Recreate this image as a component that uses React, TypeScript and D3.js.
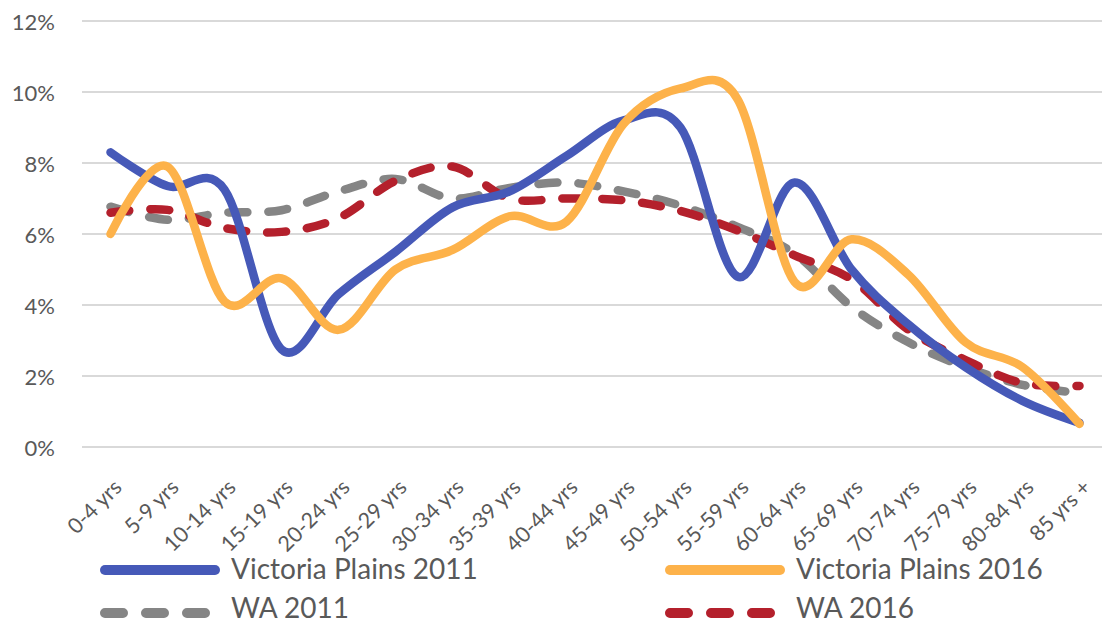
import React from "react";
import * as d3 from "d3";

const ageGroups = [
  "0-4 yrs", "5-9 yrs", "10-14 yrs", "15-19 yrs", "20-24 yrs", "25-29 yrs",
  "30-34 yrs", "35-39 yrs", "40-44 yrs", "45-49 yrs", "50-54 yrs", "55-59 yrs",
  "60-64 yrs", "65-69 yrs", "70-74 yrs", "75-79 yrs", "80-84 yrs", "85 yrs +",
];

const vp2011 = [8.3, 7.35, 7.25, 2.75, 4.3, 5.5, 6.75, 7.2, 8.2, 9.2, 9.0, 4.8, 7.45, 5.0, 3.45, 2.25, 1.3, 0.68];
const vp2016 = [6.0, 7.9, 4.1, 4.75, 3.3, 5.0, 5.55, 6.5, 6.35, 9.1, 10.1, 9.8, 4.65, 5.85, 4.85, 2.95, 2.25, 0.65];
const wa2011 = [6.77, 6.4, 6.6, 6.67, 7.2, 7.55, 7.0, 7.3, 7.45, 7.2, 6.8, 6.2, 5.45, 3.95, 2.95, 2.25, 1.75, 1.52];
const wa2016 = [6.6, 6.68, 6.17, 6.06, 6.45, 7.5, 7.9, 7.0, 7.0, 6.95, 6.65, 6.1, 5.4, 4.72, 3.3, 2.45, 1.8, 1.72];

const yTicks = [0, 2, 4, 6, 8, 10, 12];

const series = [
  { name: "Victoria Plains 2011", values: vp2011, color: "#4659B8", dashed: false },
  { name: "Victoria Plains 2016", values: vp2016, color: "#FDB24A", dashed: false },
  { name: "WA 2011", values: wa2011, color: "#858585", dashed: true },
  { name: "WA 2016", values: wa2016, color: "#B4202C", dashed: true },
];

const width = 1102;
const height = 626;
const margin = { left: 82, right: -6, top: 21, bottom: 179 };
const font = "Lato, 'Open Sans', sans-serif";
const textColor = "#595959";

export default function App() {
  const x = d3
    .scaleBand()
    .domain(ageGroups)
    .range([margin.left, width - margin.right]);
  const y = d3
    .scaleLinear()
    .domain([0, 12])
    .range([height - margin.bottom, margin.top]);
  const cx = (d) => x(d) + x.bandwidth() / 2;

  const line = d3
    .line()
    .x((d, i) => cx(ageGroups[i]))
    .y((d) => y(d))
    .curve(d3.curveCardinal.tension(0));

  // dashed series first so the solid ones sit on top
  const order = [series[2], series[3], series[0], series[1]];

  const legend = [
    { s: series[0], lx: 100, ly: 570, ty: 579 },
    { s: series[1], lx: 665, ly: 570, ty: 579 },
    { s: series[2], lx: 100, ly: 613, ty: 618 },
    { s: series[3], lx: 665, ly: 613, ty: 618 },
  ];

  return (
    <svg
      width={width}
      height={height}
      style={{ position: "absolute", left: 0, top: 0, background: "#fff" }}
      fontFamily={font}
    >
      <rect width={width} height={height} fill="#fff" />
      {yTicks.map((t) => (
        <g key={t}>
          <line
            x1={margin.left}
            x2={width}
            y1={y(t)}
            y2={y(t)}
            stroke="#d9d9d9"
            strokeWidth={2}
          />
          <text
            x={55}
            y={y(t)}
            textAnchor="end"
            dominantBaseline="central"
            fontSize={22}
            fill={textColor}
          >
            {t}%
          </text>
        </g>
      ))}

      {ageGroups.map((g) => (
        <text
          key={g}
          transform={`translate(${cx(g) + 7},${height - margin.bottom + 36}) rotate(-45)`}
          textAnchor="end"
          dominantBaseline="central"
          fontSize={21.5}
          fill={textColor}
        >
          {g}
        </text>
      ))}

      {order.map((s) => (
        <path
          key={s.name}
          d={line(s.values)}
          fill="none"
          stroke={s.color}
          strokeWidth={8.5}
          strokeLinecap="round"
          strokeLinejoin="round"
          strokeDasharray={s.dashed ? "19 21" : undefined}
        />
      ))}

      {legend.map(({ s, lx, ly, ty }) => (
        <g key={s.name}>
          <line
            x1={lx + 5}
            x2={lx + 115}
            y1={ly}
            y2={ly}
            stroke={s.color}
            strokeWidth={10}
            strokeLinecap="round"
            strokeDasharray={s.dashed ? "18 23" : undefined}
          />
          <text x={lx + 131} y={ty} fontSize={28} fill={textColor}>
            {s.name}
          </text>
        </g>
      ))}
    </svg>
  );
}
